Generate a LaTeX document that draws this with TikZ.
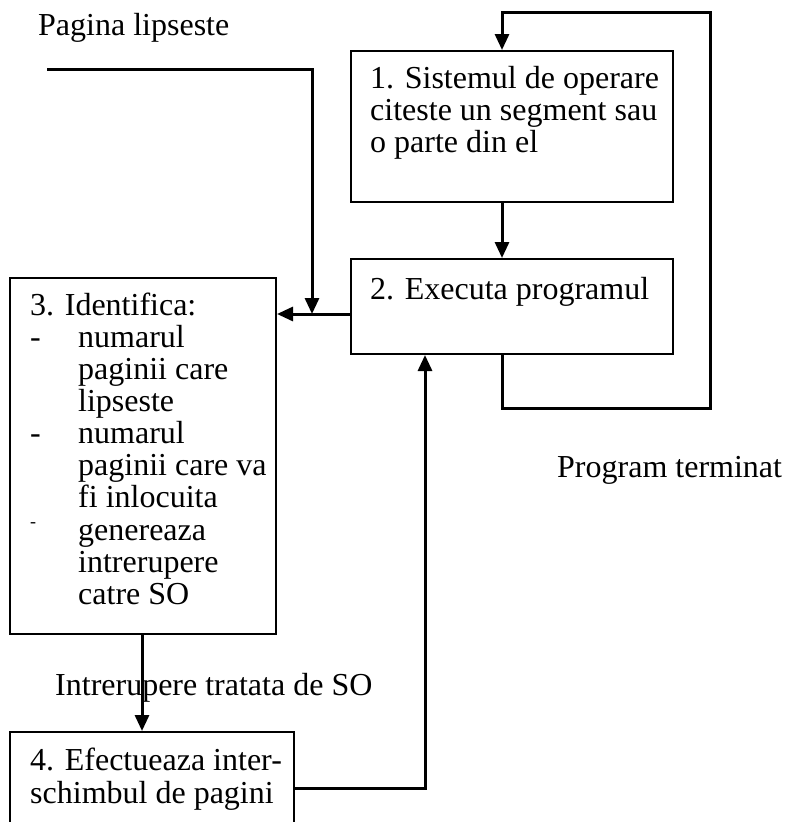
\documentclass[tikz,border=0pt]{standalone}
\usepackage{fontspec}
\setmainfont{Liberation Serif}
\usetikzlibrary{arrows.meta,calc}
\begin{document}
\begin{tikzpicture}[x=1pt,y=-1pt,
  box/.style={draw,line width=2pt,minimum width=#1,inner sep=0pt,anchor=north west},
  txt/.style={anchor=base west,inner sep=0pt,font=\fontsize{32}{32}\selectfont,align=left},
  arr/.style={line width=3pt,-{Triangle[length=16pt,width=14pt]}}]
\useasboundingbox (0,0) rectangle (785,822);
% boxes
\node[box=322pt,minimum height=151pt] (b1) at (350,50) {};
\node[box=322pt,minimum height=95pt] (b2) at (350,258) {};
\node[box=266pt,minimum height=356pt] (b3) at (9,277) {};
\node[box=284pt,minimum height=100pt] (b4) at (9,731) {};
% texts
\node[txt] (t1a) at (370,88) {1. Sistemul de operare};
\node[txt] (t1b) at (370,120) {citeste un segment sau};
\node[txt] (t1c) at (370,152) {o parte din el};
\node[txt] (t2) at (370,299) {2. Executa programul};
\node[txt] (t3a) at (30,315) {3. Identifica:};
\node[txt] (d1) at (30,347) {-};
\node[txt] (t3b) at (78,347) {numarul};
\node[txt] (t3c) at (78,379) {paginii care};
\node[txt] (t3d) at (78,411) {lipseste};
\node[txt] (d2) at (30,443) {-};
\node[txt] (t3e) at (78,443) {numarul};
\node[txt] (t3f) at (78,475) {paginii care va};
\node[txt] (t3g) at (78,507) {fi inlocuita};
\node[anchor=base west,inner sep=0pt,font=\fontsize{18}{18}\selectfont] (d3) at (30,527) {-};
\node[txt] (t3h) at (78,540) {genereaza};
\node[txt] (t3i) at (78,572) {intrerupere};
\node[txt] (t3j) at (78,604) {catre SO};
\node[txt] (t4a) at (30,770) {4. Efectueaza inter-};
\node[txt] (t4b) at (30,803) {schimbul de pagini};
\node[txt] (lp) at (38,35) {Pagina lipseste};
\node[txt] (lpt) at (557,477) {Program terminat};
\node[txt] (lis) at (55,695) {Intrerupere tratata de SO};
% connectors
\coordinate (ps) at (47,69);
\draw[arr] (ps) -- (312,69) -- (312,314);
\draw[arr] (b2.west |- 0,314) -- (b3.east |- 0,314);
\draw[arr] (502,0 |- b1.south) -- (502,0 |- b2.north);
\draw[arr] (502,0 |- b2.south) -- (502,408) -- (710,408) -- (710,12) -- (502,12) -- (502,0 |- b1.north);
\draw[arr] (142,0 |- b3.south) -- (142,0 |- b4.north);
\draw[arr] (b4.east |- 0,788) -- (425,788) -- (425,0 |- b2.south);
\end{tikzpicture}
\end{document}
